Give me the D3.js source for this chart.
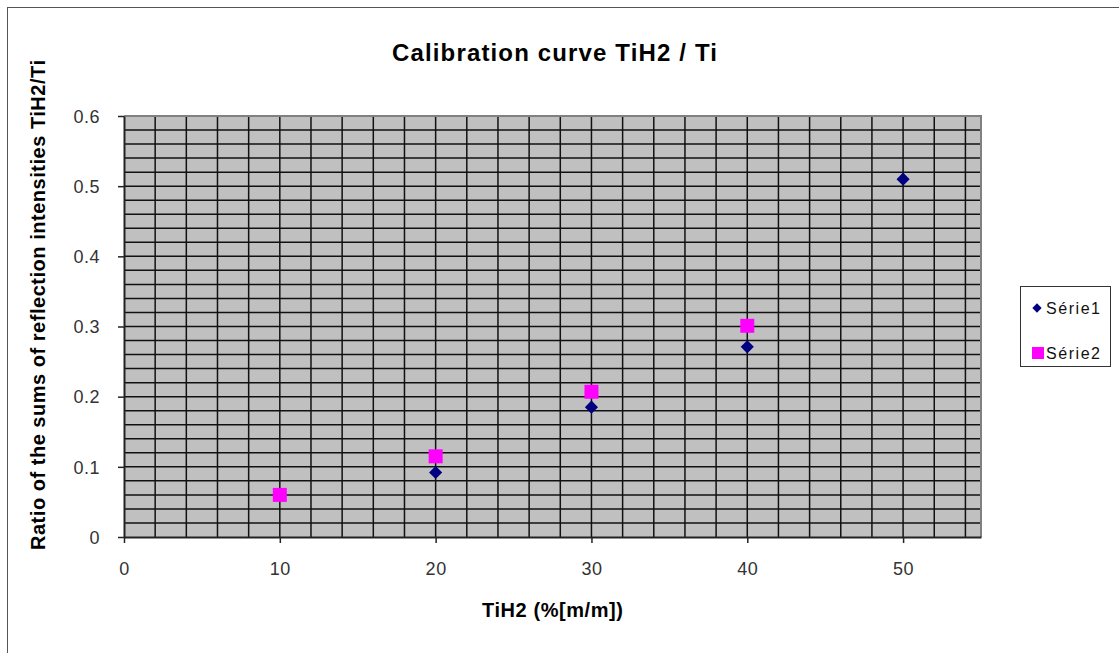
<!DOCTYPE html>
<html><head><meta charset="utf-8">
<script src="https://cdn.jsdelivr.net/npm/d3@7"></script>
<style>body{margin:0;background:#fff;font-family:"Liberation Sans",Arial,sans-serif}</style>
</head><body><svg id="c" width="1119" height="653"></svg>
<script>
const serie1X = [20, 30, 40, 50];
const serie1Y = [0.092, 0.185, 0.271, 0.510];
const serie2X = [10, 20, 30, 40];
const serie2Y = [0.060, 0.115, 0.207, 0.301];
const xTicks = [0, 10, 20, 30, 40, 50];
const yTicks = [0, 0.1, 0.2, 0.3, 0.4, 0.5, 0.6];
const seriesNames = ["Série1", "Série2"];

const FF = "Liberation Sans, Arial, sans-serif";
const svg = d3.select("#c").attr("font-family", FF);
const L = 124, R = 981, T = 116, B = 537;
const x = d3.scaleLinear().domain([0, 55]).range([L, R]);
const y = d3.scaleLinear().domain([0, 0.6]).range([B, T]);

svg.append("rect").attr("x",7.5).attr("y",7.5).attr("width",1130).attr("height",660)
  .attr("fill","#fff").attr("stroke","#555").attr("stroke-width",1);

svg.append("rect").attr("x",L).attr("y",T).attr("width",R-L).attr("height",B-T).attr("fill","#c0c0c0");

const g = svg.append("g");
d3.range(2, 55, 2).forEach(v => g.append("line").attr("x1",x(v)).attr("x2",x(v)).attr("y1",T).attr("y2",B)
  .attr("stroke","#111").attr("stroke-width",1.5));
d3.range(1, 30).forEach(i => { const v = i*0.02; g.append("line").attr("x1",L).attr("x2",R).attr("y1",y(v)).attr("y2",y(v))
  .attr("stroke","#111").attr("stroke-width",1.5); });

svg.append("path").attr("d",`M${L},${T}H${R}V${B}`).attr("fill","none").attr("stroke","#808080").attr("stroke-width",2);

const xa = svg.append("g").attr("transform",`translate(0,${B})`)
  .call(d3.axisBottom(x).tickValues(xTicks).tickSize(6).tickSizeOuter(0).tickPadding(19).tickFormat(d3.format("d")));
const ya = svg.append("g").attr("transform",`translate(${L},0)`)
  .call(d3.axisLeft(y).tickValues(yTicks).tickSize(6).tickSizeOuter(0).tickPadding(18).tickFormat(d => d===0?"0":d3.format(".1f")(d)));
[xa, ya].forEach(a => {
  a.attr("font-family", FF);
  a.selectAll("path.domain").attr("stroke","#222").attr("stroke-width",2);
  a.selectAll("line").attr("stroke","#222").attr("stroke-width",1.5);
  a.selectAll("text").attr("font-size",18).attr("fill","#333").attr("letter-spacing",0.5);
});
ya.selectAll("text").attr("dy","0.35em");

svg.append("text").attr("x",554.5).attr("y",61).attr("text-anchor","middle").attr("font-size",24).attr("font-weight","bold")
  .attr("textLength",325).attr("lengthAdjust","spacing").text("Calibration curve TiH2 / Ti");
svg.append("text").attr("x",552.5).attr("y",617).attr("text-anchor","middle").attr("font-size",20).attr("font-weight","bold")
  .attr("textLength",141).attr("lengthAdjust","spacing").text("TiH2 (%[m/m])");
svg.append("text").attr("transform","translate(45,305) rotate(-90)").attr("text-anchor","middle").attr("font-size",20).attr("font-weight","bold")
  .attr("textLength",490).attr("lengthAdjust","spacing").text("Ratio of the sums of reflection intensities TiH2/Ti");

const diamond = d3.symbol().type(d3.symbolDiamond2).size(110);
svg.append("g").selectAll("path").data(serie1X).join("path")
  .attr("d",diamond).attr("transform",(d,i)=>`translate(${x(d)},${y(serie1Y[i])})`).attr("fill","#000080");
svg.append("g").selectAll("rect").data(serie2X).join("rect")
  .attr("x",d=>x(d)-7).attr("y",(d,i)=>y(serie2Y[i])-7).attr("width",14).attr("height",14).attr("fill","#ff00ff");

const lg = svg.append("g");
lg.append("rect").attr("x",1020.5).attr("y",286.5).attr("width",90).attr("height",80).attr("fill","#fff").attr("stroke","#333");
lg.append("path").attr("d",d3.symbol().type(d3.symbolDiamond2).size(55)).attr("transform","translate(1037,308)").attr("fill","#000080");
lg.append("rect").attr("x",1032).attr("y",347).attr("width",12).attr("height",12).attr("fill","#ff00ff");
seriesNames.forEach((n,i)=> lg.append("text").attr("x",1046).attr("y",314+i*45).attr("font-size",16).attr("fill","#111")
  .attr("textLength",54).attr("lengthAdjust","spacing").text(n));
</script></body></html>
